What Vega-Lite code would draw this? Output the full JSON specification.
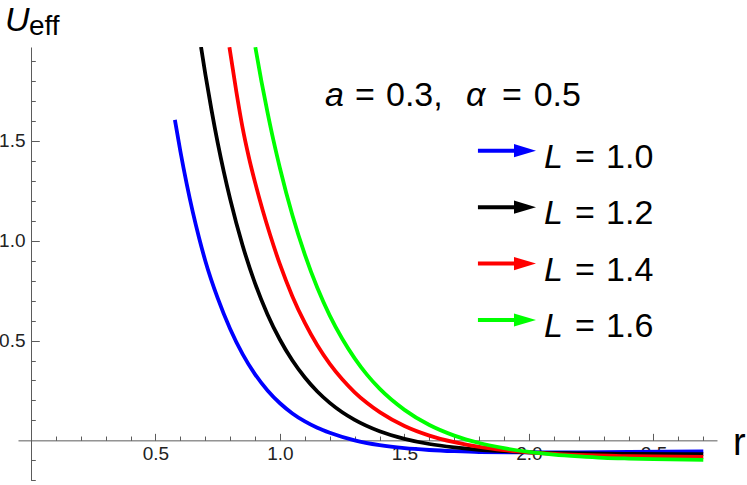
{
  "$schema": "https://vega.github.io/schema/vega-lite/v6.json",
  "width": 699,
  "height": 433.35,
  "autosize": "none",
  "padding": {"left": 18, "top": 47, "right": 30, "bottom": 5},
  "background": "white",
  "config": {"view": {"stroke": null}, "font": "Liberation Sans", "axis": {"labelOverlap": false}},
  "datasets": {
    "curves": [
      {"L": "1.0", "r": 0.578, "U": 1.605}, {"L": "1.0", "r": 0.6, "U": 1.448}, {"L": "1.0", "r": 0.625, "U": 1.287},
      {"L": "1.0", "r": 0.65, "U": 1.143}, {"L": "1.0", "r": 0.675, "U": 1.015}, {"L": "1.0", "r": 0.7, "U": 0.9},
      {"L": "1.0", "r": 0.75, "U": 0.712}, {"L": "1.0", "r": 0.8, "U": 0.558}, {"L": "1.0", "r": 0.85, "U": 0.432},
      {"L": "1.0", "r": 0.9, "U": 0.331}, {"L": "1.0", "r": 0.95, "U": 0.25}, {"L": "1.0", "r": 1.0, "U": 0.186},
      {"L": "1.0", "r": 1.05, "U": 0.135}, {"L": "1.0", "r": 1.1, "U": 0.095}, {"L": "1.0", "r": 1.15, "U": 0.063},
      {"L": "1.0", "r": 1.2, "U": 0.038}, {"L": "1.0", "r": 1.3, "U": 0.0}, {"L": "1.0", "r": 1.4, "U": -0.024},
      {"L": "1.0", "r": 1.5, "U": -0.039}, {"L": "1.0", "r": 1.6, "U": -0.048}, {"L": "1.0", "r": 1.7, "U": -0.054},
      {"L": "1.0", "r": 1.8, "U": -0.058}, {"L": "1.0", "r": 2.0, "U": -0.06}, {"L": "1.0", "r": 2.2, "U": -0.06},
      {"L": "1.0", "r": 2.4, "U": -0.058}, {"L": "1.0", "r": 2.7, "U": -0.055},
      {"L": "1.2", "r": 0.683, "U": 1.97}, {"L": "1.2", "r": 0.7, "U": 1.836}, {"L": "1.2", "r": 0.725, "U": 1.655},
      {"L": "1.2", "r": 0.75, "U": 1.49}, {"L": "1.2", "r": 0.775, "U": 1.342}, {"L": "1.2", "r": 0.8, "U": 1.208},
      {"L": "1.2", "r": 0.85, "U": 0.976}, {"L": "1.2", "r": 0.9, "U": 0.786}, {"L": "1.2", "r": 0.95, "U": 0.631},
      {"L": "1.2", "r": 1.0, "U": 0.504}, {"L": "1.2", "r": 1.05, "U": 0.4}, {"L": "1.2", "r": 1.1, "U": 0.315},
      {"L": "1.2", "r": 1.15, "U": 0.245}, {"L": "1.2", "r": 1.2, "U": 0.188}, {"L": "1.2", "r": 1.25, "U": 0.141},
      {"L": "1.2", "r": 1.3, "U": 0.103}, {"L": "1.2", "r": 1.4, "U": 0.046}, {"L": "1.2", "r": 1.5, "U": 0.008},
      {"L": "1.2", "r": 1.6, "U": -0.018}, {"L": "1.2", "r": 1.7, "U": -0.035}, {"L": "1.2", "r": 1.8, "U": -0.047},
      {"L": "1.2", "r": 1.9, "U": -0.054}, {"L": "1.2", "r": 2.0, "U": -0.06}, {"L": "1.2", "r": 2.2, "U": -0.065},
      {"L": "1.2", "r": 2.4, "U": -0.068}, {"L": "1.2", "r": 2.7, "U": -0.069},
      {"L": "1.4", "r": 0.797, "U": 1.969}, {"L": "1.4", "r": 0.825, "U": 1.745}, {"L": "1.4", "r": 0.85, "U": 1.565},
      {"L": "1.4", "r": 0.875, "U": 1.418}, {"L": "1.4", "r": 0.9, "U": 1.292}, {"L": "1.4", "r": 0.93, "U": 1.155},
      {"L": "1.4", "r": 0.96, "U": 1.031}, {"L": "1.4", "r": 1.0, "U": 0.881}, {"L": "1.4", "r": 1.05, "U": 0.721},
      {"L": "1.4", "r": 1.1, "U": 0.588}, {"L": "1.4", "r": 1.15, "U": 0.476}, {"L": "1.4", "r": 1.2, "U": 0.383},
      {"L": "1.4", "r": 1.25, "U": 0.306}, {"L": "1.4", "r": 1.3, "U": 0.241}, {"L": "1.4", "r": 1.35, "U": 0.187},
      {"L": "1.4", "r": 1.402, "U": 0.14}, {"L": "1.4", "r": 1.5, "U": 0.072}, {"L": "1.4", "r": 1.6, "U": 0.024},
      {"L": "1.4", "r": 1.7, "U": -0.009}, {"L": "1.4", "r": 1.8, "U": -0.033}, {"L": "1.4", "r": 1.9, "U": -0.049},
      {"L": "1.4", "r": 2.0, "U": -0.06}, {"L": "1.4", "r": 2.2, "U": -0.073}, {"L": "1.4", "r": 2.4, "U": -0.079},
      {"L": "1.4", "r": 2.7, "U": -0.083},
      {"L": "1.6", "r": 0.901, "U": 1.969}, {"L": "1.6", "r": 0.925, "U": 1.802}, {"L": "1.6", "r": 0.95, "U": 1.643},
      {"L": "1.6", "r": 0.975, "U": 1.496}, {"L": "1.6", "r": 1.0, "U": 1.363}, {"L": "1.6", "r": 1.05, "U": 1.127},
      {"L": "1.6", "r": 1.1, "U": 0.93}, {"L": "1.6", "r": 1.15, "U": 0.764}, {"L": "1.6", "r": 1.2, "U": 0.625},
      {"L": "1.6", "r": 1.25, "U": 0.509}, {"L": "1.6", "r": 1.3, "U": 0.411}, {"L": "1.6", "r": 1.35, "U": 0.328},
      {"L": "1.6", "r": 1.4, "U": 0.259}, {"L": "1.6", "r": 1.5, "U": 0.153}, {"L": "1.6", "r": 1.6, "U": 0.077},
      {"L": "1.6", "r": 1.7, "U": 0.024}, {"L": "1.6", "r": 1.8, "U": -0.013}, {"L": "1.6", "r": 1.9, "U": -0.039},
      {"L": "1.6", "r": 2.0, "U": -0.058}, {"L": "1.6", "r": 2.1, "U": -0.071}, {"L": "1.6", "r": 2.2, "U": -0.08},
      {"L": "1.6", "r": 2.3, "U": -0.087}, {"L": "1.6", "r": 2.4, "U": -0.091}, {"L": "1.6", "r": 2.5, "U": -0.094},
      {"L": "1.6", "r": 2.7, "U": -0.098}
    ],
    "legend": [
      {"L": "1.0", "Lval": 1.0, "num": "1.0"},
      {"L": "1.2", "Lval": 1.2, "num": "1.2"},
      {"L": "1.4", "Lval": 1.4, "num": "1.4"},
      {"L": "1.6", "Lval": 1.6, "num": "1.6"}
    ],
    "title": [
      {"t": "a", "x": 1.1809, "it": "italic"},
      {"t": "=", "x": 1.3014, "it": "normal"},
      {"t": "0.3,", "x": 1.4259, "it": "normal"},
      {"t": "α", "x": 1.7472, "it": "italic"},
      {"t": "=", "x": 1.8918, "it": "normal"},
      {"t": "0.5", "x": 2.0187, "it": "normal"}
    ]
  },
  "resolve": {"scale": {"y": "independent"}},
  "layer": [
    {
      "resolve": {"axis": {"x": "independent", "y": "independent"}},
      "layer": [
        {
          "data": {"name": "curves"},
          "mark": {"type": "line", "interpolate": "monotone", "strokeWidth": 3.8, "clip": true},
          "encoding": {
            "x": {
              "field": "r", "type": "quantitative",
              "scale": {"domain": [-0.052, 2.755], "nice": false, "zero": false},
              "axis": {
                "orient": "bottom",
                "values": [0.5, 1.0, 1.5, 2.0, 2.5],
                "format": ".1f",
                "offset": -40,
                "title": null, "grid": false,
                "domainColor": "#5a5a5a", "domainWidth": 1,
                "tickColor": "#5a5a5a", "tickWidth": 1, "tickSize": -7,
                "labelFont": "Liberation Sans", "labelFontSize": 19, "labelColor": "#222222",
                "labelPadding": 11, "labelOverlap": false, "labelFlush": false
              }
            },
            "y": {
              "field": "U", "type": "quantitative",
              "scale": {"domain": [-0.2, 1.97], "nice": false, "zero": false},
              "axis": {
                "orient": "left",
                "values": [0.5, 1.0, 1.5],
                "format": ".1f",
                "offset": -13,
                "title": null, "grid": false,
                "domainColor": "#5a5a5a", "domainWidth": 1,
                "tickColor": "#5a5a5a", "tickWidth": 1, "tickSize": -8.3,
                "labelFont": "Liberation Sans", "labelFontSize": 19, "labelColor": "#222222",
                "labelPadding": 14.3, "labelOverlap": false, "labelFlush": false
              }
            },
            "color": {
              "field": "L", "type": "nominal",
              "scale": {"domain": ["1.0", "1.2", "1.4", "1.6"], "range": ["#0000ff", "#000000", "#ff0000", "#00ff00"]},
              "legend": null
            }
          }
        },
        {
          "data": {"values": [{"t": "U"}]},
          "mark": {"type": "text", "fontSize": 34, "fontStyle": "italic", "align": "left", "baseline": "alphabetic", "color": "#000000"},
          "encoding": {
            "text": {"field": "t"},
            "x": {
              "datum": -0.104, "type": "quantitative",
              "axis": {
                "orient": "bottom",
                "values": [0.1,0.2,0.3,0.4,0.6,0.7,0.8,0.9,1.1,1.2,1.3,1.4,1.6,1.7,1.8,1.9,2.1,2.2,2.3,2.4,2.6,2.7],
                "offset": -40, "title": null, "grid": false, "domain": false, "labels": false,
                "tickColor": "#5a5a5a", "tickWidth": 1, "tickSize": -4.3
              }
            },
            "y": {
              "datum": 2.05, "type": "quantitative",
              "axis": {
                "orient": "left",
                "values": [-0.2,-0.1,0.1,0.2,0.3,0.4,0.6,0.7,0.8,0.9,1.1,1.2,1.3,1.4,1.6,1.7,1.8,1.9],
                "offset": -13, "title": null, "grid": false, "domain": false, "labels": false,
                "tickColor": "#5a5a5a", "tickWidth": 1, "tickSize": -4.3
              }
            }
          }
        },
        {
          "data": {"values": [{"t": "eff"}]},
          "mark": {"type": "text", "fontSize": 28, "align": "left", "baseline": "alphabetic", "color": "#000000"},
          "encoding": {"text": {"field": "t"}, "x": {"datum": -0.008, "type": "quantitative", "axis": null}, "y": {"datum": 2.03, "type": "quantitative", "axis": null}}
        },
        {
          "data": {"values": [{"t": "r"}]},
          "mark": {"type": "text", "fontSize": 38, "align": "left", "baseline": "alphabetic", "color": "#000000"},
          "encoding": {"text": {"field": "t"}, "x": {"datum": 2.8195, "type": "quantitative", "axis": null}, "y": {"datum": -0.073, "type": "quantitative", "axis": null}}
        },
        {
          "data": {"name": "title"},
          "transform": [{"filter": "datum.it == 'italic'"}],
          "mark": {"type": "text", "fontSize": 34, "fontStyle": "italic", "align": "left", "baseline": "alphabetic", "color": "#000000"},
          "encoding": {
            "text": {"field": "t"},
            "x": {"field": "x", "type": "quantitative", "axis": null},
            "y": {"datum": 1.6746, "type": "quantitative", "axis": null}
          }
        },
        {
          "data": {"name": "title"},
          "transform": [{"filter": "datum.it == 'normal'"}],
          "mark": {"type": "text", "fontSize": 34, "align": "left", "baseline": "alphabetic", "color": "#000000"},
          "encoding": {
            "text": {"field": "t"},
            "x": {"field": "x", "type": "quantitative", "axis": null},
            "y": {"datum": 1.6746, "type": "quantitative", "axis": null}
          }
        }
      ]
    },
    {
      "data": {"name": "legend"},
      "encoding": {
        "y": {"field": "Lval", "type": "quantitative", "scale": {"domain": [1.0, 1.6], "range": [103.7, 273], "zero": false, "nice": false}, "axis": null},
        "color": {
          "field": "L", "type": "nominal",
          "scale": {"domain": ["1.0", "1.2", "1.4", "1.6"], "range": ["#0000ff", "#000000", "#ff0000", "#00ff00"]},
          "legend": null
        }
      },
      "layer": [
        {
          "mark": {"type": "rule", "strokeWidth": 4},
          "encoding": {"x": {"datum": 1.795, "type": "quantitative", "axis": null}, "x2": {"datum": 1.948}}
        },
        {
          "mark": {"type": "point", "shape": "M-1,-0.6L1,0L-1,0.6Z", "filled": true, "size": 484, "opacity": 1, "strokeWidth": 0},
          "encoding": {"x": {"datum": 1.984, "type": "quantitative", "axis": null}}
        },
        {
          "mark": {"type": "text", "text": "L", "fontSize": 34, "fontStyle": "italic", "align": "left", "baseline": "alphabetic", "dy": 17},
          "encoding": {"x": {"datum": 2.0605, "type": "quantitative", "axis": null}, "color": {"value": "#000000"}}
        },
        {
          "mark": {"type": "text", "text": "=", "fontSize": 34, "align": "left", "baseline": "alphabetic", "dy": 17},
          "encoding": {"x": {"datum": 2.185, "type": "quantitative", "axis": null}, "color": {"value": "#000000"}}
        },
        {
          "mark": {"type": "text", "fontSize": 34, "align": "left", "baseline": "alphabetic", "dy": 17},
          "encoding": {"x": {"datum": 2.3095, "type": "quantitative", "axis": null}, "text": {"field": "num"}, "color": {"value": "#000000"}}
        }
      ]
    }
  ]
}
